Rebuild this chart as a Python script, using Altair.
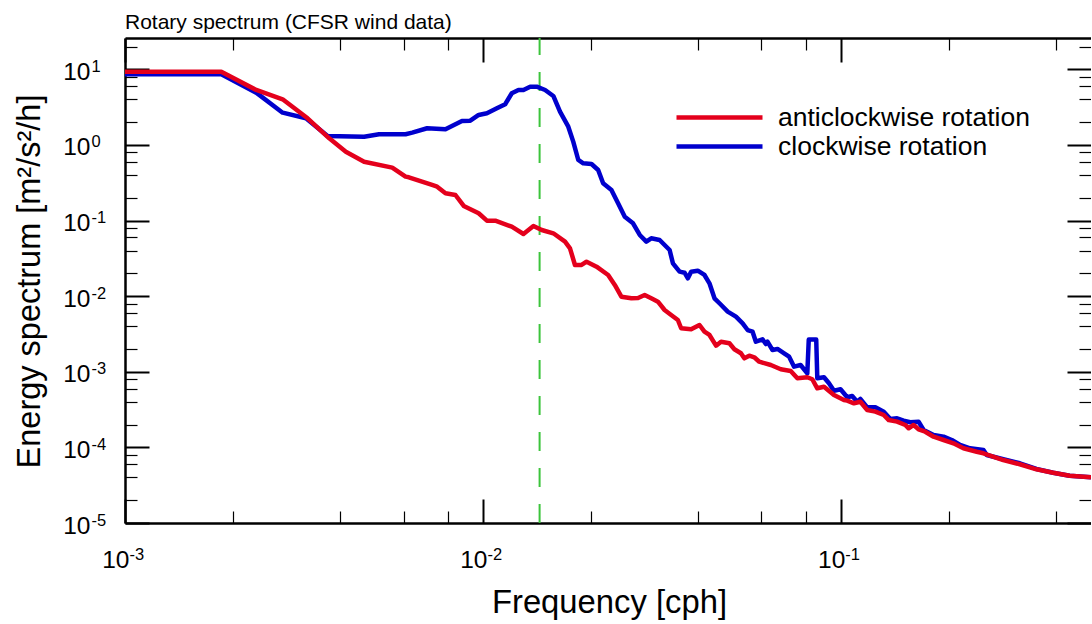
import altair as alt
import pandas as pd

FONT = "Liberation Sans"

title_text = "Rotary spectrum (CFSR wind data)"
x_title = "Frequency [cph]"
y_title = "Energy spectrum [m²/s²/h]"
series_names = ["anticlockwise rotation", "clockwise rotation"]
series_colors = ["#e4001c", "#0000cd"]
marker_color = "#3cc43c"

x_range = [0.001, 0.5]
y_range = [1e-5, 26]
x_major = [0.001, 0.01, 0.1]
x_minor = [0.002, 0.004, 0.006, 0.008, 0.02, 0.04, 0.06, 0.08, 0.2, 0.4]
y_major = [1e-5, 1e-4, 1e-3, 1e-2, 1e-1, 1, 10]
y_minor = [2e-5, 4e-5, 6e-5, 8e-5, 2e-4, 4e-4, 6e-4, 8e-4, 2e-3, 4e-3, 6e-3, 8e-3,
           0.02, 0.04, 0.06, 0.08, 0.2, 0.4, 0.6, 0.8, 2, 4, 6, 8, 20]
inertial_freq = [0.0144]

red_freq = [0.001, 0.001858, 0.002326, 0.002757, 0.003237, 0.003721, 0.00414, 0.004656,
            0.00558, 0.00608, 0.00621, 0.00721, 0.00745, 0.00786, 0.00838, 0.00884, 0.00973,
            0.01026, 0.01083, 0.01204, 0.01298, 0.01384, 0.0146, 0.01573, 0.01696, 0.01751,
            0.01808, 0.01886, 0.01948, 0.02077, 0.02238, 0.02336, 0.02437, 0.02599, 0.02713,
            0.02831, 0.02953, 0.03083, 0.03218, 0.03357, 0.03505, 0.0358, 0.03817, 0.04028,
            0.04159, 0.04295, 0.04481, 0.04627, 0.04883, 0.05042, 0.05259, 0.05375, 0.05549,
            0.0573, 0.05916, 0.06374, 0.06796, 0.07244, 0.07561, 0.0806, 0.08324, 0.08595,
            0.08974, 0.09568, 0.102, 0.1042, 0.1088, 0.1134, 0.1185, 0.1249, 0.1318, 0.1361,
            0.1436, 0.1514, 0.1547, 0.1597, 0.1649, 0.1721, 0.1816, 0.1937, 0.2064, 0.2201,
            0.2397, 0.2503, 0.2844, 0.3163, 0.352, 0.3919, 0.4358, 0.5]
red_energy = [9.33, 9.33, 5.34, 4.02, 2.254, 1.226, 0.815, 0.601, 0.501, 0.381, 0.374, 0.296,
              0.281, 0.2297, 0.218, 0.156, 0.125, 0.0997, 0.0997, 0.083, 0.0665, 0.0848, 0.0751,
              0.0679, 0.0526, 0.043, 0.02586, 0.02586, 0.0286, 0.02456, 0.01908, 0.01407,
              0.00985, 0.00938, 0.00947, 0.01037, 0.00938, 0.00846, 0.00657, 0.00564, 0.00484,
              0.003762, 0.003649, 0.004159, 0.003392, 0.003068, 0.002214, 0.002502, 0.002382,
              0.001985, 0.001757, 0.001508, 0.001633, 0.001555, 0.00136, 0.00123, 0.001079,
              0.001025, 0.00082, 0.000846, 0.000796, 0.000605, 0.000635, 0.000493, 0.000424,
              0.000415, 0.000383, 0.000402, 0.000312, 0.000297, 0.000268, 0.00023, 0.000219,
              0.000198, 0.000179, 0.000198, 0.0001735, 0.0001613, 0.0001385, 0.0001253,
              0.0001133, 9.73e-05, 8.77e-05, 8.36e-05, 6.81e-05, 5.98e-05, 5.13e-05, 4.63e-05,
              4.22e-05, 4.02e-05]

blue_freq = [0.001, 0.001858, 0.002326, 0.002757, 0.003204, 0.00368, 0.004656, 0.005126,
             0.00608, 0.006345, 0.006985, 0.00786, 0.00874, 0.00922, 0.00973, 0.01026, 0.01094,
             0.01154, 0.01204, 0.01257, 0.01298, 0.01355, 0.01414, 0.01492, 0.01573, 0.01642,
             0.01732, 0.01788, 0.01847, 0.01907, 0.02011, 0.02099, 0.02167, 0.02286, 0.02386,
             0.02491, 0.02627, 0.02743, 0.02861, 0.02953, 0.03117, 0.03324, 0.03395, 0.03544,
             0.03659, 0.03738, 0.03817, 0.03984, 0.04159, 0.04295, 0.04436, 0.0458, 0.0483,
             0.05093, 0.05317, 0.0549, 0.05668, 0.05789, 0.06042, 0.06172, 0.06238, 0.06443,
             0.06653, 0.06944, 0.0717, 0.07403, 0.0772, 0.0806, 0.08136, 0.08536, 0.08595,
             0.08974, 0.09266, 0.09568, 0.0998, 0.1042, 0.1076, 0.1111, 0.1134, 0.1185, 0.1249,
             0.1318, 0.1375, 0.1436, 0.1498, 0.1563, 0.1649, 0.1703, 0.1816, 0.1937, 0.2042,
             0.2154, 0.2296, 0.2503, 0.2556, 0.2844, 0.3163, 0.352, 0.3919, 0.4358, 0.5]
blue_energy = [8.61, 8.61, 4.92, 2.674, 2.254, 1.315, 1.288, 1.385, 1.385, 1.455, 1.663, 1.613,
               2.078, 2.097, 2.494, 2.627, 3.058, 3.454, 4.83, 5.34, 5.34, 5.9, 5.9, 5.34, 4.45,
               2.758, 1.746, 1.106, 0.633, 0.573, 0.561, 0.467, 0.3115, 0.254, 0.1693, 0.1126,
               0.0921, 0.0645, 0.0526, 0.0583, 0.0554, 0.0408, 0.02724, 0.0211, 0.02046, 0.01725,
               0.0211, 0.02175, 0.01908, 0.01481, 0.00938, 0.00806, 0.00624, 0.00536, 0.00438,
               0.00357, 0.00339, 0.0025, 0.00269, 0.00233, 0.0025, 0.001943, 0.002003, 0.001757,
               0.001584, 0.001168, 0.00123, 0.000955, 0.002675, 0.002675, 0.00082, 0.000846,
               0.000705, 0.000562, 0.000587, 0.00046, 0.000479, 0.000402, 0.000437, 0.000339,
               0.000339, 0.000297, 0.0002375, 0.0002426, 0.0002255, 0.0002148, 0.0002188,
               0.00017, 0.0001459, 0.0001385, 0.0001253, 0.0001076, 9.73e-05, 9.24e-05, 7.93e-05,
               6.96e-05, 6.16e-05, 5.18e-05, 4.63e-05, 4.22e-05, 4.02e-05]

red_df = pd.DataFrame({"f": red_freq, "E": red_energy, "s": series_names[0]})
blue_df = pd.DataFrame({"f": blue_freq, "E": blue_energy, "s": series_names[1]})
rule_df = pd.DataFrame({"f": inertial_freq, "lo": [y_range[0]], "hi": [y_range[1]]})
helper_df = pd.DataFrame({"f": [x_major[1]], "E": [y_major[5]]})

W, H = 966, 485

xs = alt.Scale(type="log", domain=x_range, nice=False)
ys = alt.Scale(type="log", domain=y_range, nice=False)
cs = alt.Scale(domain=series_names, range=series_colors)

EXP = "'' + round(log(datum.value) / LN10)"

# ---- x axes ----
ax_x_main = alt.Axis(orient="bottom", values=x_major, labelExpr="'10'", ticks=False, tickSize=0,
                     domain=True, domainColor="black", domainWidth=2.5,
                     labelFont=FONT, labelFontSize=24.5, labelColor="black", labelAlign="right",
                     labelBaseline="alphabetic", labelOffset=4, labelPadding=44,
                     labelFlush=False, labelOverlap=False, grid=False,
                     title=x_title, titleFont=FONT, titleFontSize=32.8, titleFontWeight="normal",
                     titleColor="black", titleX=W / 2 + 1, titleY=89, titleBaseline="alphabetic",
                     titleAlign="center")
ax_x_exp = alt.Axis(orient="bottom", values=x_major, labelExpr=EXP, ticks=False, tickSize=0,
                    domain=False, labelFont=FONT, labelFontSize=16.5, labelColor="black",
                    labelAlign="left", labelBaseline="alphabetic", labelOffset=4, labelPadding=36,
                    labelFlush=False, labelOverlap=False, grid=False, title=None)
ax_x_major_b = alt.Axis(orient="bottom", values=x_major, labels=False, domain=False, ticks=True,
                        tickSize=24, tickWidth=2, tickColor="black", offset=-24, grid=False, title=None)
ax_x_minor_b = alt.Axis(orient="bottom", values=x_minor, labels=False, domain=False, ticks=True,
                        tickSize=12, tickWidth=1.2, tickColor="black", offset=-12, grid=False, title=None)
ax_x_top = alt.Axis(orient="top", values=x_major, labels=False, ticks=False, tickSize=0, domain=True,
                    domainColor="black", domainWidth=2.5, grid=False, title=None)
ax_x_major_t = alt.Axis(orient="top", values=x_major, labels=False, domain=False, ticks=True,
                        tickSize=24, tickWidth=2, tickColor="black", offset=-24, grid=False, title=None)
ax_x_minor_t = alt.Axis(orient="top", values=x_minor, labels=False, domain=False, ticks=True,
                        tickSize=12, tickWidth=1.2, tickColor="black", offset=-12, grid=False, title=None)

# ---- y axes ----
ax_y_main = alt.Axis(orient="left", values=y_major, labelExpr="'10'", ticks=False, tickSize=0,
                     domain=True, domainColor="black", domainWidth=2.5,
                     labelFont=FONT, labelFontSize=24.5, labelColor="black", labelAlign="right",
                     labelBaseline="alphabetic", labelOffset=10, labelPadding=35,
                     labelFlush=False, labelOverlap=False, grid=False,
                     title=y_title, titleFont=FONT, titleFontSize=32.5, titleFontWeight="normal",
                     titleColor="black", titleX=-86, titleY=243, titleAngle=270,
                     titleBaseline="alphabetic", titleAlign="center")
ax_y_exp = alt.Axis(orient="left", values=y_major, labelExpr=EXP, ticks=False, tickSize=0,
                    domain=False, labelFont=FONT, labelFontSize=16.5, labelColor="black",
                    labelAlign="left", labelBaseline="alphabetic", labelOffset=2, labelPadding=34,
                    labelFlush=False, labelOverlap=False, grid=False, title=None)
ax_y_major_l = alt.Axis(orient="left", values=y_major, labels=False, domain=False, ticks=True,
                        tickSize=24, tickWidth=2, tickColor="black", offset=-24, grid=False, title=None)
ax_y_minor_l = alt.Axis(orient="left", values=y_minor, labels=False, domain=False, ticks=True,
                        tickSize=12, tickWidth=1.2, tickColor="black", offset=-12, grid=False, title=None)
ax_y_major_r = alt.Axis(orient="right", values=y_major, labels=False, domain=False, ticks=True,
                        tickSize=24, tickWidth=2, tickColor="black", offset=-24, grid=False, title=None)
ax_y_minor_r = alt.Axis(orient="right", values=y_minor, labels=False, domain=False, ticks=True,
                        tickSize=12, tickWidth=1.2, tickColor="black", offset=-12, grid=False, title=None)

legend = alt.Legend(orient="none", legendX=549, legendY=67, title=None, symbolType="stroke",
                    symbolSize=7396, symbolStrokeWidth=4.5, labelFont=FONT, labelFontSize=26.5,
                    labelColor="black", labelLimit=500, labelOffset=13, clipHeight=25,
                    rowPadding=2, padding=0, symbolOffset=0)

blue_line = alt.Chart(blue_df).mark_line(strokeWidth=4.5, strokeJoin="round", clip=True).encode(
    x=alt.X("f:Q", scale=xs, axis=ax_x_main),
    y=alt.Y("E:Q", scale=ys, axis=ax_y_main),
    color=alt.Color("s:N", scale=cs, legend=legend),
)
red_line = alt.Chart(red_df).mark_line(strokeWidth=4.5, strokeJoin="round", clip=True).encode(
    x=alt.X("f:Q", scale=xs, axis=ax_x_exp),
    y=alt.Y("E:Q", scale=ys, axis=ax_y_exp),
    color=alt.Color("s:N", scale=cs, legend=legend),
)
rule = alt.Chart(rule_df).mark_rule(color=marker_color, strokeWidth=2, strokeDash=[19, 17]).encode(
    x=alt.X("f:Q", scale=xs, axis=ax_x_major_b),
    y=alt.Y("lo:Q", scale=ys, axis=ax_y_major_l),
    y2="hi:Q",
)


def helper(xa, ya):
    return alt.Chart(helper_df).mark_point(opacity=0).encode(
        x=alt.X("f:Q", scale=xs, axis=xa),
        y=alt.Y("E:Q", scale=ys, axis=ya),
    )


chart = alt.layer(
    rule,
    blue_line,
    red_line,
    helper(ax_x_minor_b, ax_y_minor_l),
    helper(ax_x_top, ax_y_major_r),
    helper(ax_x_major_t, ax_y_minor_r),
    helper(ax_x_minor_t, None),
).resolve_axis(x="independent", y="independent").properties(
    width=W,
    height=H,
    padding={"left": 125, "top": 38, "right": 0, "bottom": 97},
    autosize=alt.AutoSizeParams(type="none"),
    title=alt.Title(title_text, anchor="start", frame="group", fontSize=21, font=FONT,
                    fontWeight="normal", color="black", offset=4),
    background="white",
).configure_view(stroke=None).configure_axis(grid=False)

chart.save("out.html", embed_options={"renderer": "svg", "actions": False})
